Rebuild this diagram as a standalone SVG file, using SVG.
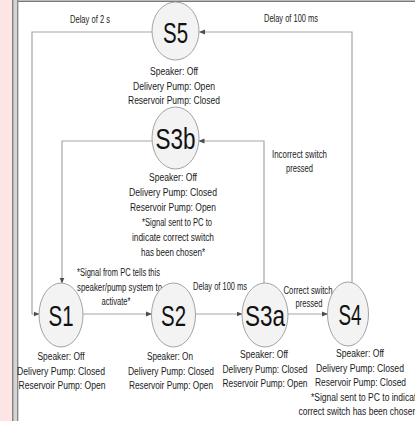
<svg xmlns="http://www.w3.org/2000/svg" width="415" height="421" viewBox="0 0 415 421">
<defs>
<style>
.bg{fill:#ffffff}
.node{fill:#f3f3f3;stroke:#a3a3a3;stroke-width:1}
.big{font-family:"Liberation Sans",Arial,sans-serif;font-size:29px;fill:#111;text-anchor:middle}
.t{font-family:"Liberation Sans",Arial,sans-serif;font-size:10px;fill:#1a1a1a;text-anchor:middle}
.ts{font-family:"Liberation Sans",Arial,sans-serif;font-size:10px;fill:#1a1a1a;text-anchor:start}
.c{fill:none;stroke:#a6a6a6;stroke-width:1.2}
</style>
<marker id="ah" markerUnits="userSpaceOnUse" markerWidth="6" markerHeight="6" refX="5.5" refY="3" orient="auto">
<path d="M0,0.5 L6,3 L0,5.5 z" fill="#4d4d4d"/>
</marker>
</defs>
<rect class="bg" x="0" y="0" width="415" height="421"/>
<g id="frame">
<rect x="0" y="0" width="12.5" height="421" fill="#fde5e5"/>
<rect x="12.5" y="0" width="5.5" height="421" fill="#d4d4d4"/>
<line x1="12.8" y1="0" x2="12.8" y2="421" stroke="#5a5a5a" stroke-width="1"/>
<line x1="17.8" y1="0" x2="17.8" y2="421" stroke="#6a6a6a" stroke-width="1"/>
<line x1="18" y1="1.3" x2="415" y2="1.3" stroke="#7a7a7a" stroke-width="1.4"/>
</g>
<g id="connectors">
<path class="c" d="M152,32 H32 V314 H39" marker-end="url(#ah)"/>
<path class="c" d="M352,283 V32 H199.5" marker-end="url(#ah)"/>
<path class="c" d="M152,141 H62 V283" marker-end="url(#ah)"/>
<path class="c" d="M264,283 V141 H199" marker-end="url(#ah)"/>
<path class="c" d="M83,314 H151.5" marker-end="url(#ah)"/>
<path class="c" d="M195.5,314 H242" marker-end="url(#ah)"/>
<path class="c" d="M288,314 H327.5" marker-end="url(#ah)"/>
<text class="t" x="90" y="23" textLength="40" lengthAdjust="spacingAndGlyphs">Delay of 2 s</text>
<text class="t" x="291" y="22" textLength="54" lengthAdjust="spacingAndGlyphs">Delay of 100 ms</text>
<text class="t" x="299.5" y="158" textLength="55" lengthAdjust="spacingAndGlyphs">Incorrect switch</text>
<text class="t" x="299.5" y="172" textLength="27" lengthAdjust="spacingAndGlyphs">pressed</text>
<text class="t" x="118.5" y="276" textLength="83" lengthAdjust="spacingAndGlyphs">*Signal from PC tells this</text>
<text class="t" x="119.5" y="290.5" textLength="85" lengthAdjust="spacingAndGlyphs">speaker/pump system to</text>
<text class="t" x="116" y="304.5" textLength="29" lengthAdjust="spacingAndGlyphs">activate*</text>
<text class="t" x="220" y="290" textLength="54" lengthAdjust="spacingAndGlyphs">Delay of 100 ms</text>
<text class="t" x="308" y="294" textLength="49" lengthAdjust="spacingAndGlyphs">Correct switch</text>
<text class="t" x="309" y="307" textLength="27" lengthAdjust="spacingAndGlyphs">pressed</text>
</g>
<g id="S5">
<ellipse class="node" cx="175.5" cy="31" rx="23.5" ry="29"/>
<text class="big" x="175.5" y="42.5" textLength="25" lengthAdjust="spacingAndGlyphs">S5</text>
<text class="t" x="174" y="75" textLength="48" lengthAdjust="spacingAndGlyphs">Speaker: Off</text>
<text class="t" x="174" y="89.5" textLength="82" lengthAdjust="spacingAndGlyphs">Delivery Pump: Open</text>
<text class="t" x="174" y="104" textLength="92" lengthAdjust="spacingAndGlyphs">Reservoir Pump: Closed</text>
</g>
<g id="S3b">
<ellipse class="node" cx="175.5" cy="138" rx="23.5" ry="31"/>
<text class="big" x="175.5" y="148.5" textLength="40" lengthAdjust="spacingAndGlyphs">S3b</text>
<text class="t" x="173" y="181" textLength="48" lengthAdjust="spacingAndGlyphs">Speaker: Off</text>
<text class="t" x="173" y="196" textLength="88" lengthAdjust="spacingAndGlyphs">Delivery Pump: Closed</text>
<text class="t" x="173" y="211" textLength="86" lengthAdjust="spacingAndGlyphs">Reservoir Pump: Open</text>
<text class="t" x="177" y="226" textLength="70" lengthAdjust="spacingAndGlyphs">*Signal sent to PC to</text>
<text class="t" x="173" y="241" textLength="82" lengthAdjust="spacingAndGlyphs">indicate correct switch</text>
<text class="t" x="173" y="256" textLength="64" lengthAdjust="spacingAndGlyphs">has been chosen*</text>
</g>
<g id="S1">
<ellipse class="node" cx="61" cy="315" rx="22" ry="32"/>
<text class="big" x="61" y="325.5" textLength="25" lengthAdjust="spacingAndGlyphs">S1</text>
<text class="t" x="61" y="360" textLength="47" lengthAdjust="spacingAndGlyphs">Speaker: Off</text>
<text class="t" x="61" y="374.5" textLength="88" lengthAdjust="spacingAndGlyphs">Delivery Pump: Closed</text>
<text class="t" x="62" y="389" textLength="87" lengthAdjust="spacingAndGlyphs">Reservoir Pump: Open</text>
</g>
<g id="S2">
<ellipse class="node" cx="173.5" cy="315" rx="22" ry="32"/>
<text class="big" x="173.5" y="325.5" textLength="25" lengthAdjust="spacingAndGlyphs">S2</text>
<text class="t" x="170" y="360" textLength="46" lengthAdjust="spacingAndGlyphs">Speaker: On</text>
<text class="t" x="171" y="374.5" textLength="86" lengthAdjust="spacingAndGlyphs">Delivery Pump: Closed</text>
<text class="t" x="171" y="389" textLength="84" lengthAdjust="spacingAndGlyphs">Reservoir Pump: Open</text>
</g>
<g id="S3a">
<ellipse class="node" cx="265" cy="315" rx="23" ry="32"/>
<text class="big" x="265" y="325.5" textLength="40" lengthAdjust="spacingAndGlyphs">S3a</text>
<text class="t" x="264" y="358" textLength="48" lengthAdjust="spacingAndGlyphs">Speaker: Off</text>
<text class="t" x="265" y="372.5" textLength="85" lengthAdjust="spacingAndGlyphs">Delivery Pump: Closed</text>
<text class="t" x="265" y="387" textLength="85" lengthAdjust="spacingAndGlyphs">Reservoir Pump: Open</text>
</g>
<g id="S4">
<ellipse class="node" cx="348" cy="314" rx="20.5" ry="32"/>
<text class="big" x="350" y="324.5" textLength="23" lengthAdjust="spacingAndGlyphs">S4</text>
<text class="t" x="360" y="357" textLength="48" lengthAdjust="spacingAndGlyphs">Speaker: Off</text>
<text class="t" x="360" y="371.5" textLength="88" lengthAdjust="spacingAndGlyphs">Delivery Pump: Closed</text>
<text class="t" x="360.5" y="386" textLength="91" lengthAdjust="spacingAndGlyphs">Reservoir Pump: Closed</text>
<text class="ts" x="311" y="400.5" textLength="110" lengthAdjust="spacingAndGlyphs">*Signal sent to PC to indicate</text>
<text class="ts" x="298.5" y="415" textLength="122" lengthAdjust="spacingAndGlyphs">correct switch has been chosen*</text>
</g>
</svg>
